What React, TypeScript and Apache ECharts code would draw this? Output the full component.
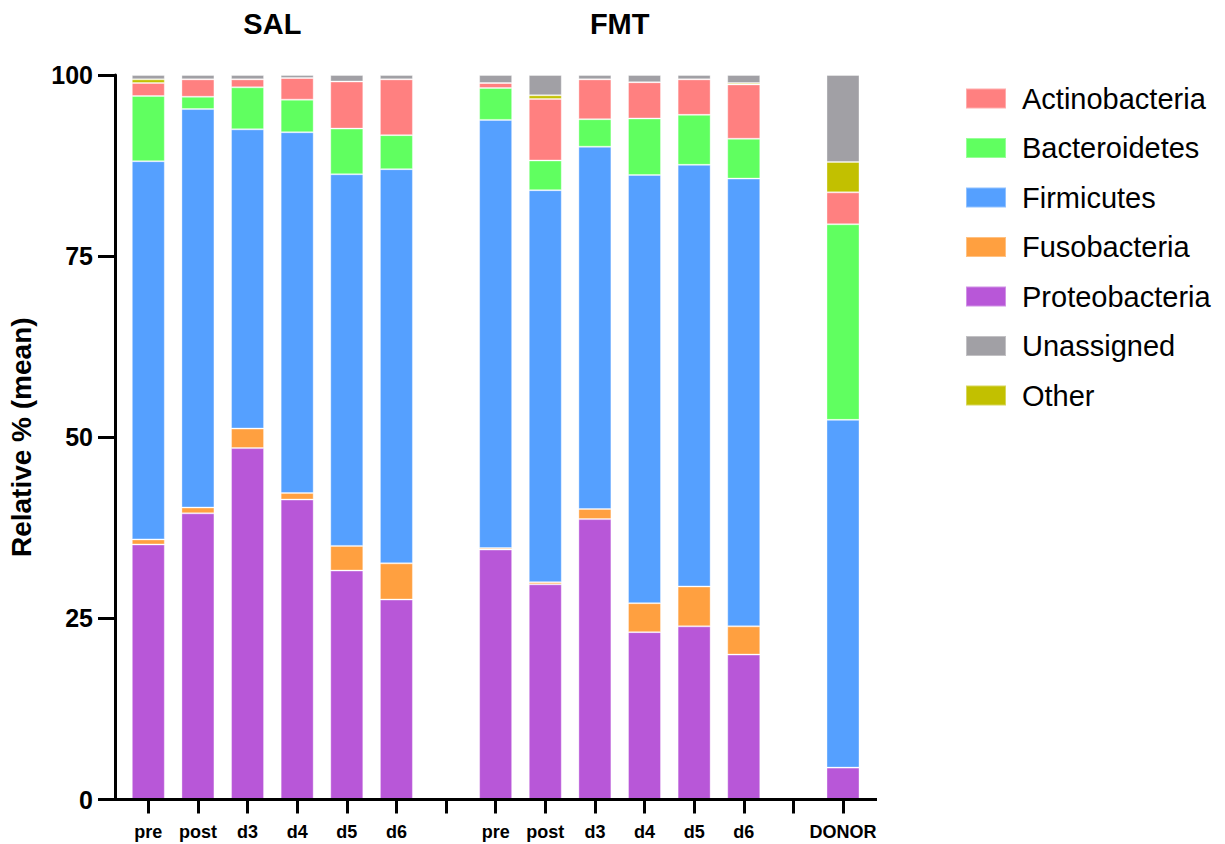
import React, { useEffect, useRef } from "react";
import * as echarts from "echarts";

const categories = ["pre", "post", "d3", "d4", "d5", "d6", "", "pre", "post", "d3", "d4", "d5", "d6", "", "DONOR"];
const groupTitles = ["SAL", "FMT"];
const groupFirstLast = [[0, 5], [7, 12]];

const proteobacteria = [35.2, 39.5, 48.5, 41.4, 31.6, 27.6, null, 34.5, 29.7, 38.7, 23.1, 23.9, 20.0, null, 4.4];
const fusobacteria = [0.7, 0.8, 2.7, 0.9, 3.4, 5.0, null, 0.2, 0.3, 1.4, 4.0, 5.5, 3.9, null, 0];
const firmicutes = [52.2, 55.0, 41.3, 49.8, 51.3, 54.4, null, 59.1, 54.1, 50.0, 59.1, 58.2, 61.8, null, 48.0];
const bacteroidetes = [9.0, 1.7, 5.8, 4.5, 6.3, 4.7, null, 4.4, 4.1, 3.8, 7.8, 6.9, 5.5, null, 27.0];
const actinobacteria = [1.8, 2.4, 1.1, 3.0, 6.5, 7.7, null, 0.7, 8.5, 5.5, 5.0, 4.9, 7.5, null, 4.4];
const other = [0.5, 0, 0, 0, 0, 0, null, 0, 0.5, 0, 0, 0, 0.2, null, 4.2];
const unassigned = [0.6, 0.6, 0.6, 0.4, 0.9, 0.6, null, 1.1, 2.8, 0.6, 1.0, 0.6, 1.1, null, 12.0];

const seriesDefs = [
  { name: "Proteobacteria", values: proteobacteria, color: "#B857D8" },
  { name: "Fusobacteria", values: fusobacteria, color: "#FFA040" },
  { name: "Firmicutes", values: firmicutes, color: "#55A0FF" },
  { name: "Bacteroidetes", values: bacteroidetes, color: "#60FF60" },
  { name: "Actinobacteria", values: actinobacteria, color: "#FF8080" },
  { name: "Other", values: other, color: "#C2C000" },
  { name: "Unassigned", values: unassigned, color: "#A1A0A5" },
];
const legendOrder = ["Actinobacteria", "Bacteroidetes", "Firmicutes", "Fusobacteria", "Proteobacteria", "Unassigned", "Other"];

const FONT = "'Liberation Sans', Arial, Helvetica, sans-serif";

const GRID = { left: 123.5, right: 357.2, top: 75, bottom: 44.5 };
const AXIS_LEFT = 115;
const AXIS_RIGHT = 877;

export default function App() {
  const ref = useRef<HTMLDivElement>(null);
  useEffect(() => {
    if (!ref.current) return;
    const chart = echarts.init(ref.current, null, { renderer: "svg" });
    const option: any = {
      animation: false,
      backgroundColor: "#fff",
      grid: { ...GRID, containLabel: false, outerBoundsMode: "none" },
      legend: {
        data: legendOrder,
        orient: "vertical",
        left: 960,
        top: 79,
        itemWidth: 40,
        itemHeight: 20,
        itemGap: 20.5,
        icon: "rect",
        textStyle: { fontFamily: FONT, fontSize: 29, color: "#000", padding: [0, 0, 0, 11] },
        selectedMode: false,
      },
      xAxis: {
        type: "category",
        data: categories,
        boundaryGap: true,
        axisLine: { show: false },
        axisTick: { show: true, alignWithLabel: true, interval: 0, length: 14, lineStyle: { color: "#000", width: 3 } },
        axisLabel: {
          interval: 0,
          fontFamily: FONT,
          fontWeight: "bold",
          fontSize: 18,
          color: "#000",
          margin: 23,
        },
      },
      yAxis: {
        type: "value",
        min: 0,
        max: 100,
        interval: 25,
        offset: GRID.left - AXIS_LEFT,
        name: "Relative % (mean)",
        nameLocation: "middle",
        nameGap: 80,
        nameTextStyle: { fontFamily: FONT, fontWeight: "bold", fontSize: 28, color: "#000" },
        splitLine: { show: false },
        axisLine: { show: true, lineStyle: { color: "#000", width: 3 } },
        axisTick: { show: true, length: 17, lineStyle: { color: "#000", width: 3 } },
        axisLabel: {
          fontFamily: FONT,
          fontWeight: "bold",
          fontSize: 25,
          color: "#000",
          margin: 22,
        },
      },
      series: seriesDefs.map((s) => ({
        name: s.name,
        type: "bar",
        stack: "total",
        barWidth: 33,
        itemStyle: { color: s.color, borderColor: "rgba(255,255,255,0.35)", borderWidth: 1 },
        data: s.values.map((v) => (v === null ? "-" : v)),
      })),
    };
    chart.setOption(option);
    const y0 = chart.convertToPixel({ yAxisIndex: 0 }, 0) as number;
    const graphics: any[] = groupTitles.map((t, k) => {
      const a = chart.convertToPixel({ xAxisIndex: 0 }, groupFirstLast[k][0]) as number;
      const b = chart.convertToPixel({ xAxisIndex: 0 }, groupFirstLast[k][1]) as number;
      return {
        type: "text",
        x: (a + b) / 2,
        y: 24,
        style: {
          text: t,
          fontFamily: FONT,
          fontWeight: "bold",
          fontSize: 29,
          fill: "#000",
          align: "center",
          verticalAlign: "middle",
        },
      };
    });
    graphics.push({
      type: "line",
      shape: { x1: AXIS_LEFT - 1.5, y1: y0, x2: AXIS_RIGHT, y2: y0 },
      style: { stroke: "#000", lineWidth: 3 },
      z: 10,
    });
    chart.setOption({ graphic: graphics });
    return () => chart.dispose();
  }, []);
  return <div ref={ref} style={{ position: "fixed", left: 0, top: 0, width: 1225, height: 844 }} />;
}
